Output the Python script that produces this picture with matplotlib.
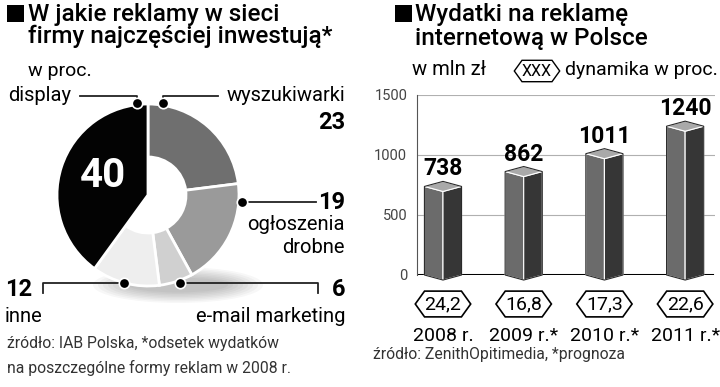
# Dwa wykresy: struktura wydatkow na reklame w sieci (donut) i wydatki na reklame internetowa (slupki 3D)
import matplotlib
matplotlib.use('Agg')
import matplotlib.pyplot as plt
from matplotlib.patches import Polygon, Rectangle, Ellipse
from matplotlib.lines import Line2D
from matplotlib.path import Path
import numpy as np

plt.rcParams['font.family'] = ['Roboto', 'DejaVu Sans']

# --- dane: wykres kolowy (kolejnosc zgodnie z ruchem wskazowek od godziny 12) ---
kategorie = ['wyszukiwarki', 'ogłoszenia\ndrobne', 'e-mail marketing', 'inne', 'display']
udzialy = [23, 19, 6, 12, 40]
kolory_pie = ['#6f6f6f', '#9a9a9a', '#d0d0d0', '#eeeeee', '#030303']

# --- dane: wykres slupkowy ---
lata = ['2008 r.', '2009 r.*', '2010 r.*', '2011 r.*']
wydatki = [738, 862, 1011, 1240]
dynamika = ['24,2', '16,8', '17,3', '22,6']
ticki_y = [0, 500, 1000, 1500]

W, H = 720, 387
fig = plt.figure(figsize=(7.2, 3.87), dpi=100)


def fx(x):
    return x / W


def fy(y):
    return 1 - y / H


def tekst(x, y, s, **kw):
    kw.setdefault('va', 'baseline')
    fig.text(fx(x), fy(y), s, **kw)


def linia(pkt):
    fig.add_artist(Line2D([fx(p[0]) for p in pkt], [fy(p[1]) for p in pkt],
                          transform=fig.transFigure, color='#222222', lw=1.3))


def kropka(x, y):
    fig.add_artist(Line2D([fx(x)], [fy(y)], marker='o', ms=7.5, mfc='black',
                          mec='white', mew=1.2, transform=fig.transFigure))


def kwadrat(x, y):
    fig.add_artist(Rectangle((fx(x), fy(y + 17)), 17 / W, 17 / H,
                             transform=fig.transFigure, fc='black', ec='none'))


def szesciokat(x0, y0, width, height, mutation_size):
    # ramka w ksztalcie szesciokata <xxx>
    pad = 0.2 * mutation_size
    y0 -= pad
    h = height + 2 * pad
    k = 0.36 * h
    xl, xr = x0, x0 + width
    verts = [(xl - k, y0 + h / 2), (xl, y0), (xr, y0), (xr + k, y0 + h / 2),
             (xr, y0 + h), (xl, y0 + h), (xl - k, y0 + h / 2)]
    return Path(verts, closed=True)


# ================= LEWA CZESC =================
kwadrat(7, 5)
tekst(28, 21, 'W jakie reklamy w sieci', fontsize=17.5, fontweight='medium')
tekst(28, 43, 'firmy najczęściej inwestują*', fontsize=17.5, fontweight='medium')
tekst(28, 76, 'w proc.', fontsize=14)

ax_p = fig.add_axes([fx(48), fy(295), 200 / W, 200 / H])
R, r_dziura = 0.91, 0.38

# cien pod wykresem
for i in range(8):
    ax_p.add_patch(Ellipse((0.3, -0.9), 1.7 - i * 0.1, 0.36 - i * 0.03,
                           fc='#000000', alpha=0.03, ec='none', zorder=0, clip_on=False))

wedges, _ = ax_p.pie(udzialy, colors=kolory_pie, startangle=90, counterclock=False,
                     radius=R, wedgeprops=dict(width=R - r_dziura, edgecolor='white', linewidth=2))
# display - pelny wycinek (bez otworu)
wedges[-1].set_width(None)
ax_p.set_xlim(-1, 1)
ax_p.set_ylim(-1, 1)
ax_p.axis('off')

tekst(103, 176, str(udzialy[4]), fontsize=29, fontweight='bold', color='white',
      ha='center', va='center')

# podpisy z odnosnikami
tekst(8, 101, kategorie[4], fontsize=14.5)
linia([(80, 96), (137, 96), (137, 103)])
kropka(137, 103)

tekst(345, 101, kategorie[0], fontsize=14.5, ha='right')
tekst(345, 129, str(udzialy[0]), fontsize=17, fontweight='bold', ha='right')
linia([(218, 96), (163, 96), (163, 103)])
kropka(163, 103)

tekst(345, 209, str(udzialy[1]), fontsize=17, fontweight='bold', ha='right')
tekst(345, 230, kategorie[1].split('\n')[0], fontsize=14.5, ha='right')
tekst(345, 253, kategorie[1].split('\n')[1], fontsize=14.5, ha='right')
linia([(242, 202), (316, 202)])
kropka(242, 202)

tekst(5, 296, str(udzialy[3]), fontsize=17, fontweight='bold')
tekst(5, 322, kategorie[3], fontsize=14.5)
linia([(43, 293), (43, 283), (124, 283)])
kropka(124, 283)

tekst(345, 296, str(udzialy[2]), fontsize=17, fontweight='bold', ha='right')
tekst(345, 322, kategorie[2], fontsize=14.5, ha='right')
linia([(180, 283), (318, 283), (318, 293)])
kropka(180, 283)

tekst(7, 348, 'źródło: IAB Polska, *odsetek wydatków', fontsize=11.3, color='#333333')
tekst(7, 373, 'na poszczególne formy reklam w 2008 r.', fontsize=11.3, color='#333333')

# ================= PRAWA CZESC =================
kwadrat(395, 5)
tekst(415, 21, 'Wydatki na reklamę', fontsize=17.5, fontweight='medium')
tekst(415, 45, 'internetową w Polsce', fontsize=17.5, fontweight='medium')
tekst(412, 75, 'w mln zł', fontsize=14.5)
tekst(537, 71, 'XXX', fontsize=11.5, ha='center', va='center',
      bbox=dict(boxstyle=szesciokat, fc='white', ec='black', lw=1.0))
tekst(565, 75, 'dynamika w proc.', fontsize=14)

ax = fig.add_axes([fx(417), fy(275), 298 / W, 180 / H])
x = np.arange(len(wydatki))
ax.set_xlim(-0.322, 3.37)
ax.set_ylim(0, 1500)
ax.set_yticks(ticki_y)
ax.set_xticks([])
ax.tick_params(axis='y', length=0, pad=7, labelsize=10.5, labelcolor='#444444')
ax.grid(axis='y', color='#b0b0b0', lw=0.8)
ax.set_axisbelow(True)
for s in ['top', 'right', 'bottom']:
    ax.spines[s].set_visible(False)
ax.spines['left'].set_color('#555555')
ax.axhline(0, xmax=0.99, color='black', lw=2.2, zorder=2)

dx, dy = 0.23, 42  # szerokosc scianki i glebokosc perspektywy
for xi, v, d, rok in zip(x, wydatki, dynamika, lata):
    lewa = [(xi - dx, v), (xi, v - dy), (xi, -dy), (xi - dx, 0)]
    prawa = [(xi, v - dy), (xi + dx, v), (xi + dx, 0), (xi, -dy)]
    gora = [(xi - dx, v), (xi, v - dy), (xi + dx, v), (xi, v + dy)]
    for pts, kol in [(lewa, '#6b6b6b'), (prawa, '#363636'), (gora, '#a9a9a9')]:
        ax.add_patch(Polygon(pts, closed=True, fc=kol, ec='white', lw=0.8,
                             zorder=3, clip_on=False))
    obrys = [(xi - dx, v), (xi, v + dy), (xi + dx, v), (xi + dx, 0), (xi, -dy), (xi - dx, 0)]
    ax.add_patch(Polygon(obrys, closed=True, fc='none', ec='#2a2a2a', lw=0.8,
                         zorder=4, clip_on=False))
    ax.annotate(f'{v}', xy=(xi, v), xytext=(0, 11), textcoords='offset pixels',
                ha='center', va='baseline', fontsize=16.5, fontweight='bold')
    ax.annotate(d, xy=(xi, 0), xytext=(0, -29), textcoords='offset pixels',
                ha='center', va='center', fontsize=14, annotation_clip=False,
                bbox=dict(boxstyle=szesciokat, fc='white', ec='black', lw=1.2))
    ax.annotate(rok, xy=(xi, 0), xytext=(0, -66), textcoords='offset pixels',
                ha='center', va='baseline', fontsize=14, annotation_clip=False)

tekst(373, 359, 'źródło: ZenithOpitimedia, *prognoza', fontsize=11.3, color='#333333')

fig.savefig('out.png', dpi=100)
